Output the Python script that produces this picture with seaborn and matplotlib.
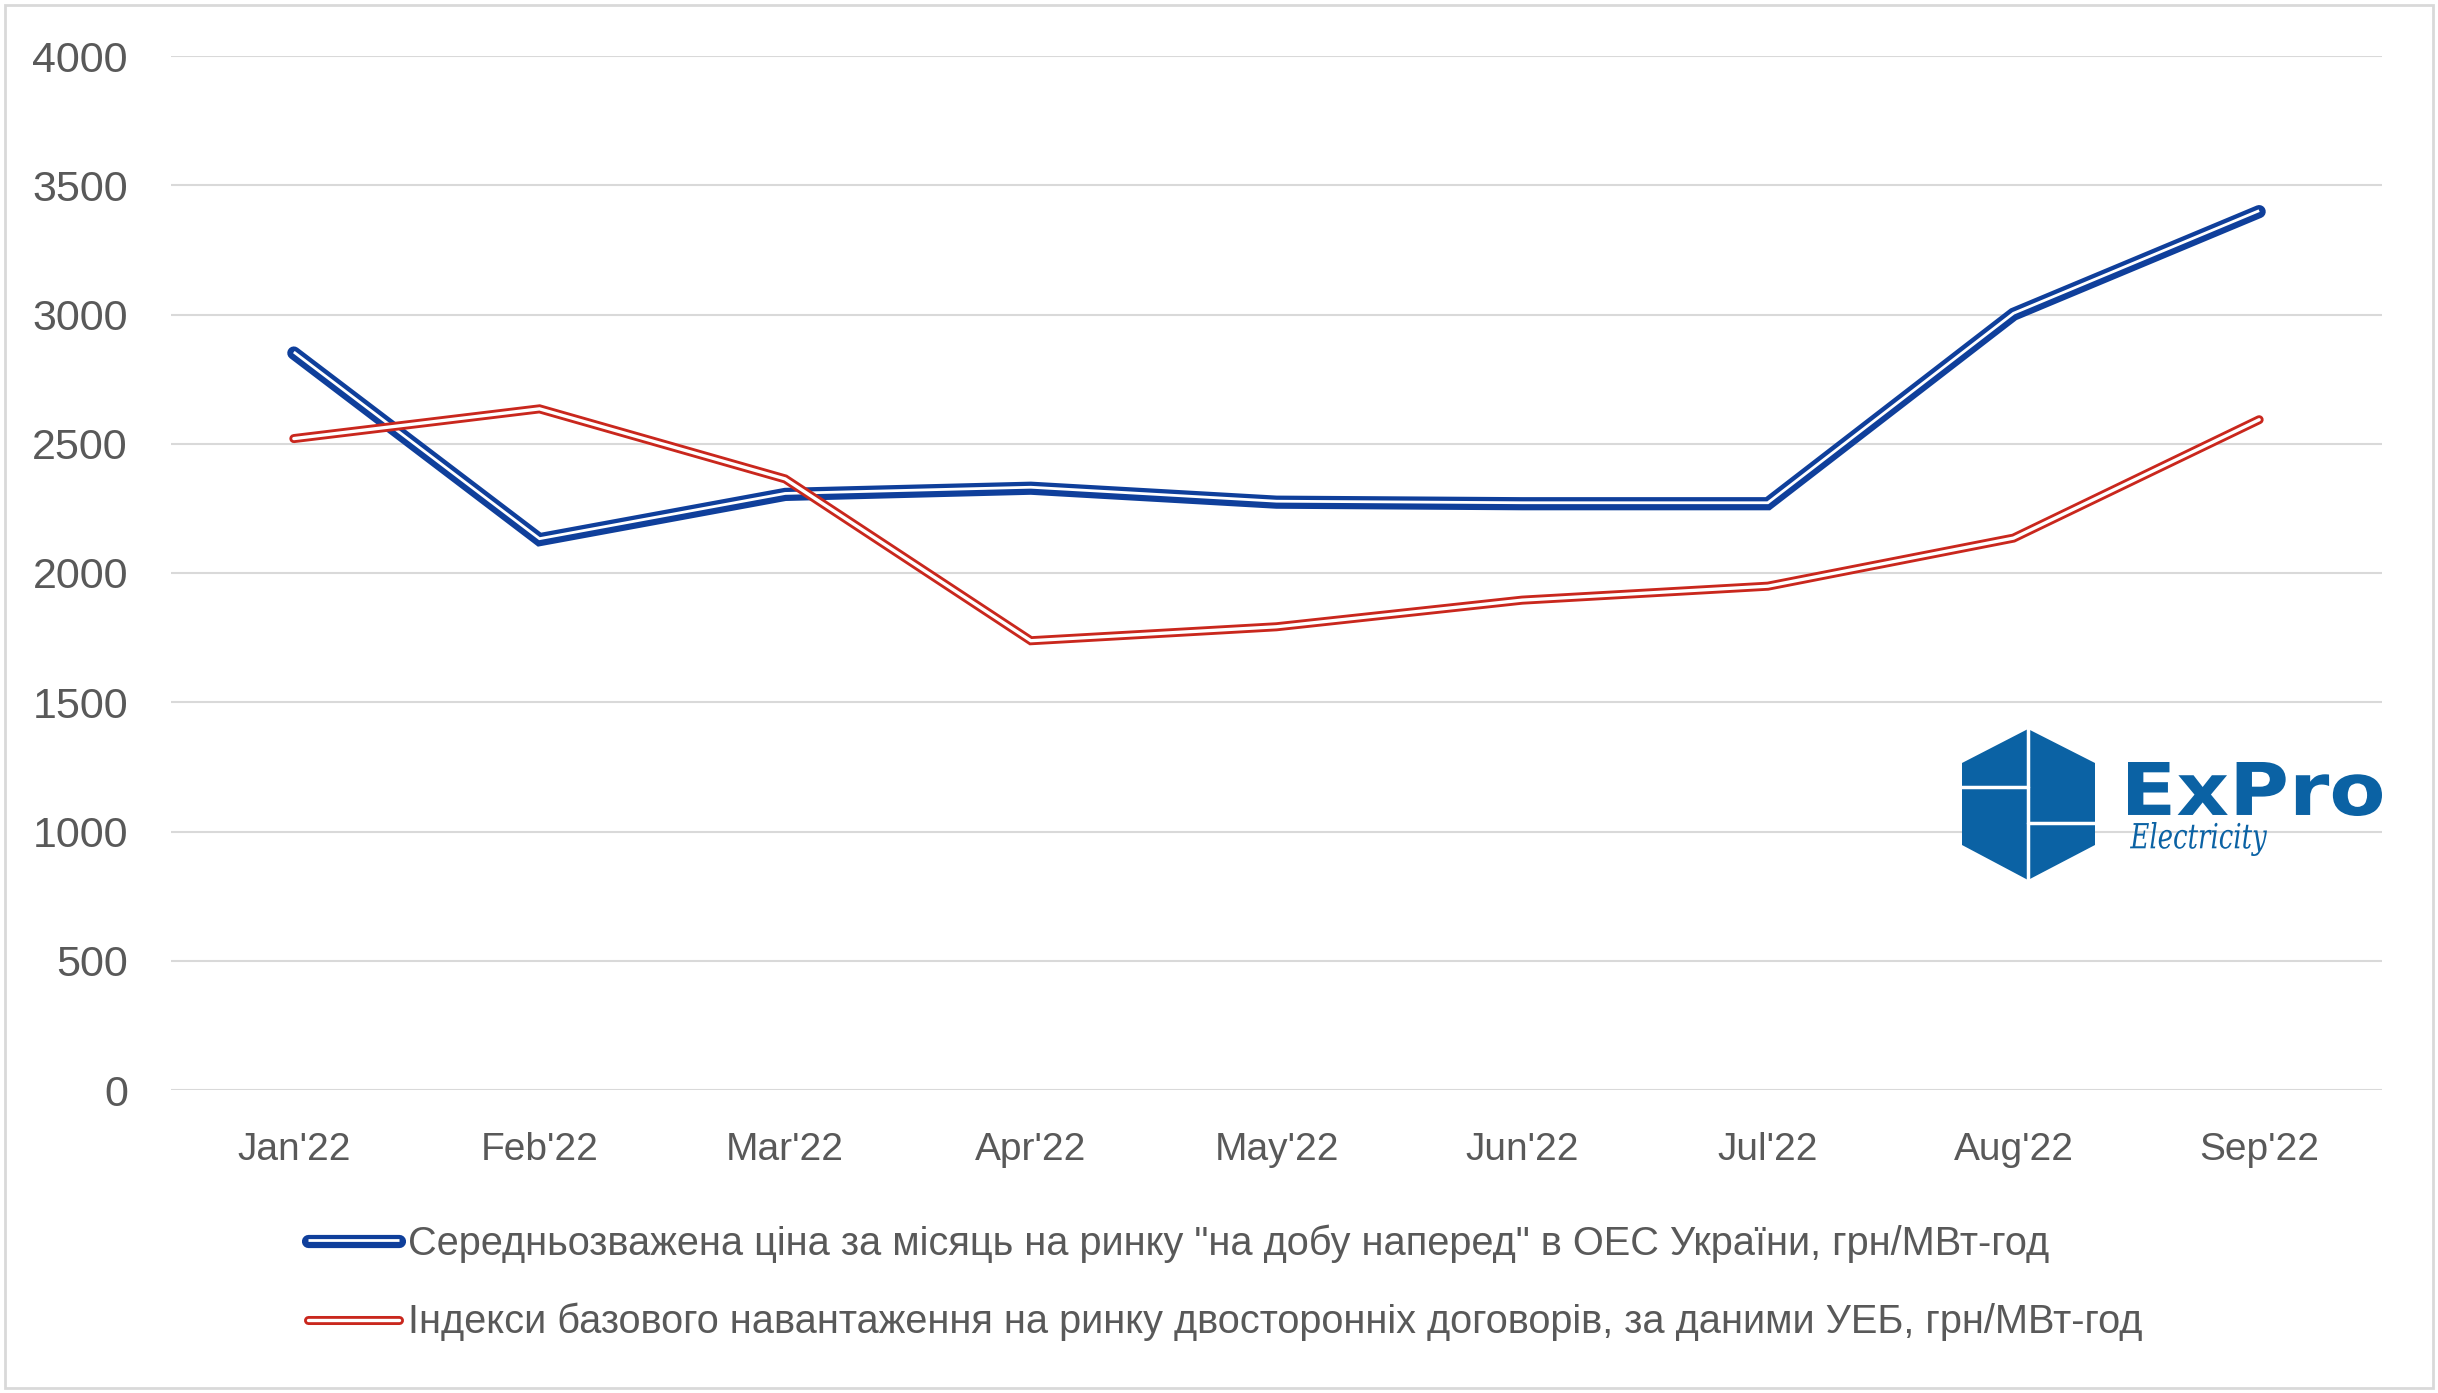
import matplotlib
matplotlib.use("Agg")
import matplotlib.pyplot as plt
import matplotlib.patheffects as pe
from matplotlib.lines import Line2D
from matplotlib.patches import Polygon, Rectangle, PathPatch
from matplotlib.textpath import TextPath
from matplotlib.font_manager import FontProperties
from matplotlib.transforms import Affine2D
import seaborn as sns
import pandas as pd

# Data
months = ["Jan'22", "Feb'22", "Mar'22", "Apr'22", "May'22", "Jun'22", "Jul'22", "Aug'22", "Sep'22"]
dam_price = [2851, 2129, 2304, 2328, 2274, 2268, 2268, 3001, 3398]
bilateral_index = [2520, 2635, 2364, 1738, 1792, 1895, 1949, 2135, 2593]
label_dam = 'Середньозважена ціна за місяць на ринку "на добу наперед" в ОЕС України, грн/МВт-год'
label_bil = 'Індекси базового навантаження на ринку двосторонніх договорів, за даними УЕБ, грн/МВт-год'

blue = "#0f3f9b"
red = "#c9271d"
grey_text = "#595959"
grid_col = "#d9d9d9"
logo_col = "#0b62a4"

sns.set_style("white")
plt.rcParams['font.family'] = ['Liberation Sans', 'DejaVu Sans']

df = pd.DataFrame({"month": list(range(len(months))), "dam": dam_price, "bil": bilateral_index})

fig = plt.figure(figsize=(24.38, 13.93), dpi=100)
ax = fig.add_axes([171 / 2438, 1 - 1090 / 1393, (2382 - 171) / 2438, (1090 - 56) / 1393])

# double-line look: coloured stroke with a white core
blue_fx = [pe.Stroke(linewidth=9.5, foreground=blue, capstyle="round", joinstyle="miter"),
           pe.Stroke(linewidth=2.0, foreground="white", offset=(0, 0.7), capstyle="butt", joinstyle="miter")]
red_fx = [pe.Stroke(linewidth=6.5, foreground=red, capstyle="round", joinstyle="miter"),
          pe.Stroke(linewidth=2.4, foreground="white", capstyle="round", joinstyle="miter")]

sns.lineplot(data=df, x="month", y="dam", ax=ax, color=blue, linewidth=9.5, path_effects=blue_fx)
sns.lineplot(data=df, x="month", y="bil", ax=ax, color=red, linewidth=6.5, path_effects=red_fx)

ax.set_xlim(-0.5, len(months) - 0.5)
ax.set_ylim(0, 4000)
ax.set_yticks(range(0, 4001, 500))
ax.set_xticks(range(len(months)))
ax.set_xticklabels(months)
ax.set_xlabel("")
ax.set_ylabel("")
ax.grid(axis="y", color=grid_col, linewidth=1.5)
ax.set_axisbelow(True)
for s in ax.spines.values():
    s.set_visible(False)
ax.tick_params(axis="y", labelsize=31, colors=grey_text, length=0, pad=31)
ax.tick_params(axis="x", labelsize=28, colors=grey_text, length=0, pad=30)

# legend
h1 = Line2D([], [], color=blue, linewidth=9.5, path_effects=blue_fx)
h2 = Line2D([], [], color=red, linewidth=6.5, path_effects=red_fx)
fig.legend([h1, h2], [label_dam, label_bil], loc="upper left",
           bbox_to_anchor=(272 / 2438, 1 - 1189 / 1393), frameon=False,
           fontsize=28.6, labelcolor=grey_text, handlelength=2.3, handletextpad=0.22,
           labelspacing=1.0)

# logo
def fx(px):
    return px / 2438

def fy(py):
    return 1 - py / 1393

hexagon = [(1962, 763), (2028, 729), (2095, 763), (2095, 845), (2028, 880), (1962, 845)]
fig.patches.append(Polygon([(fx(x), fy(y)) for x, y in hexagon], closed=True,
                           transform=fig.transFigure, facecolor=logo_col, edgecolor="none"))
fig.add_artist(Line2D([fx(2028), fx(2028)], [fy(726), fy(883)], color="white", linewidth=2.5,
                      transform=fig.transFigure))
fig.add_artist(Line2D([fx(1958), fx(2028)], [fy(787), fy(787)], color="white", linewidth=2.5,
                      transform=fig.transFigure))
fig.add_artist(Line2D([fx(2028), fx(2099)], [fy(823), fy(823)], color="white", linewidth=2.5,
                      transform=fig.transFigure))


def boxed_text(s, prop, x0, x1, y_top, y_bot):
    # text outline scaled into a pixel box of the figure
    tp = TextPath((0, 0), s, size=100, prop=prop)
    ext = tp.get_extents()
    sx = (x1 - x0) / ext.width
    sy = (y_bot - y_top) / ext.height
    tr = (Affine2D().translate(-ext.x0, -ext.y0).scale(sx, sy)
          .translate(x0, 1393 - y_bot).scale(1 / 2438, 1 / 1393))
    fig.patches.append(PathPatch(tr.transform_path(tp), transform=fig.transFigure,
                                 facecolor=logo_col, edgecolor="none"))


boxed_text("ExPro", FontProperties(family="DejaVu Sans", weight="bold"), 2128, 2382, 762, 816)
boxed_text("Electricity", FontProperties(family="DejaVu Serif", style="italic"), 2130, 2267, 822, 856)

# outer frame
fig.patches.append(Rectangle((fx(5), fy(1388)), fx(2428), 1383 / 1393, transform=fig.transFigure,
                             fill=False, edgecolor=grid_col, linewidth=2))

fig.savefig("out.png", dpi=100)
